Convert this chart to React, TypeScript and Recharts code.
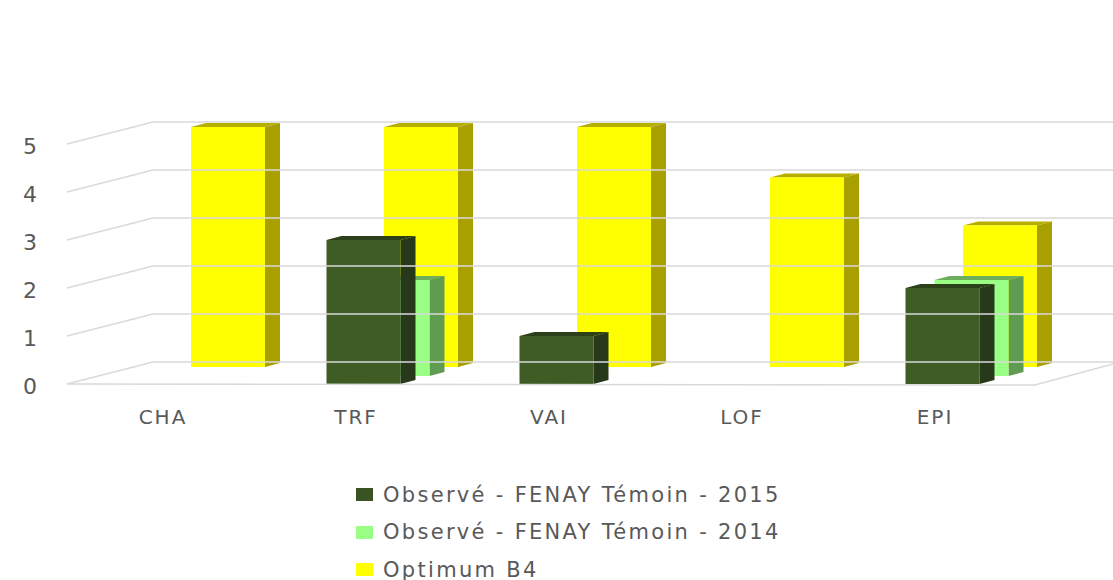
import { BarChart, Bar, XAxis, YAxis, Legend } from 'recharts';

const categories = ['CHA', 'TRF', 'VAI', 'LOF', 'EPI'];
const observed2015 = [null, 3, 1, null, 2];
const observed2014 = [null, 2, null, null, 2];
const optimumB4 = [5, 5, 5, 3.95, 2.95];
const yTicks = [0, 1, 2, 3, 4, 5];

const NAME_2015 = 'Observé - FENAY Témoin - 2015';
const NAME_2014 = 'Observé - FENAY Témoin - 2014';
const NAME_OPTIMUM = 'Optimum B4';

const data = categories.map((name, i) => ({
  name,
  observed2015: observed2015[i],
  observed2014: observed2014[i],
  optimum: optimumB4[i],
}));

const FONT = '"DejaVu Sans", sans-serif';
const TEXT = '#595959';
const GRID = '#d9d9d9';
const DEPTH_X = 15;
const DEPTH_Y = 4;

// front face + side + top, so the flat bar reads as a 3D column
const column = (face: string, side: string, top: string) => (props: any) => {
  const { x, y, width, height } = props;
  if (!height) return <g />;
  return (
    <g>
      <polygon
        points={`${x},${y} ${x + DEPTH_X},${y - DEPTH_Y} ${x + width + DEPTH_X},${y - DEPTH_Y} ${x + width},${y}`}
        fill={top}
      />
      <polygon
        points={`${x + width},${y} ${x + width + DEPTH_X},${y - DEPTH_Y} ${x + width + DEPTH_X},${y + height - DEPTH_Y} ${x + width},${y + height}`}
        fill={side}
      />
      <rect x={x} y={y} width={width} height={height} fill={face} />
    </g>
  );
};

// each tick also draws its gridline: slant up the side wall, then along the back wall
const YTick = (props: any) => {
  const { y, payload } = props;
  return (
    <g>
      <polyline points={`67,${y} 153,${y - 22} 1113,${y - 22}`} fill="none" stroke={GRID} strokeWidth={1.5} />
      {payload.value === 0 && (
        <polyline points={`67,${y} 1035,${y + 1} 1113,${y - 20}`} fill="none" stroke={GRID} strokeWidth={1.5} />
      )}
      <text x={30} y={y + 10} textAnchor="middle" fontFamily={FONT} fontSize={22} fill={TEXT}>
        {payload.value}
      </text>
    </g>
  );
};

const legendRows = [
  { name: NAME_2015, color: '#3b5323' },
  { name: NAME_2014, color: '#99ff85' },
  { name: NAME_OPTIMUM, color: '#ffff00' },
];

const ChartLegend = () => (
  <div style={{ fontFamily: FONT, fontSize: 21, color: TEXT, letterSpacing: 2.3 }}>
    {legendRows.map((row) => (
      <div key={row.name} style={{ display: 'flex', alignItems: 'center', height: 37.5, whiteSpace: 'nowrap' }}>
        <span style={{ width: 17, height: 13, marginRight: 10, background: row.color, display: 'inline-block' }} />
        {row.name}
      </div>
    ))}
  </div>
);

export default function App() {
  return (
    <div style={{ position: 'absolute', left: 0, top: 0, width: 1113, height: 580, overflow: 'hidden', background: '#fff' }}>
      <BarChart
        width={1113}
        height={580}
        data={data}
        margin={{ top: 127, right: 17, bottom: 53.5, left: 13.5 }}
      >
        <XAxis
          xAxisId="front"
          dataKey="name"
          padding={{ left: 0, right: 57.5 }}
          axisLine={false}
          tickLine={false}
          height={30}
          dx={-7}
          dy={-12}
          tick={{ fontFamily: FONT, fontSize: 20, fill: TEXT, letterSpacing: 2 }}
        />
        <XAxis xAxisId="middle" dataKey="name" hide padding={{ left: 29, right: 28.5 }} />
        <XAxis xAxisId="back" dataKey="name" hide padding={{ left: 57.5, right: 0 }} />
        <YAxis
          yAxisId="front"
          domain={[0, 5]}
          ticks={yTicks}
          width={60}
          padding={{ top: 17, bottom: 0 }}
          axisLine={false}
          tickLine={false}
          tick={<YTick />}
        />
        <YAxis yAxisId="middle" domain={[0, 5]} hide padding={{ top: 9, bottom: 8 }} />
        <YAxis yAxisId="back" domain={[0, 5]} hide padding={{ top: 0, bottom: 17 }} />
        <Legend
          content={<ChartLegend />}
          wrapperStyle={{ left: 356, top: 476, width: 460, bottom: 'auto' }}
        />
        <Bar
          xAxisId="back"
          yAxisId="back"
          dataKey="optimum"
          name={NAME_OPTIMUM}
          barSize={74}
          fill="#ffff00"
          shape={column('#ffff00', '#a8a000', '#b5b000')}
          isAnimationActive={false}
        />
        <Bar
          xAxisId="middle"
          yAxisId="middle"
          dataKey="observed2014"
          name={NAME_2014}
          barSize={74}
          fill="#99ff85"
          shape={column('#99ff85', '#5f9b50', '#6cae5c')}
          isAnimationActive={false}
        />
        <Bar
          xAxisId="front"
          yAxisId="front"
          dataKey="observed2015"
          name={NAME_2015}
          barSize={74}
          fill="#3b5323"
          shape={column('#3f5c24', '#27391a', '#2c4019')}
          isAnimationActive={false}
        />
      </BarChart>
    </div>
  );
}
